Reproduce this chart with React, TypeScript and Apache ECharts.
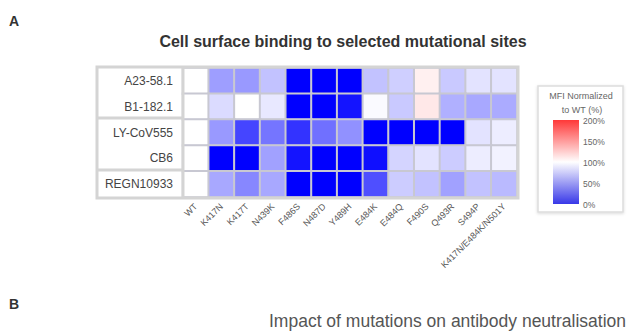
import React, { useEffect, useRef } from 'react';
import * as echarts from 'echarts';

const antibodies = ['A23-58.1', 'B1-182.1', 'LY-CoV555', 'CB6', 'REGN10933'];
const mutations = ['WT', 'K417N', 'K417T', 'N439K', 'F486S', 'N487D', 'Y489H', 'E484K', 'E484Q', 'F490S', 'Q493R', 'S494P', 'K417N/E484K/N501Y'];
const a23Values = [100, 62, 60, 76, 0, 0, 0, 76, 81, 106, 79, 89, 89];
const b1Values = [100, 86, 100, 91, 0, 0, 8, 98, 79, 109, 69, 66, 67];
const lyValues = [100, 60, 27, 46, 20, 44, 57, 0, 0, 0, 0, 89, 93];
const cb6Values = [100, 0, 0, 63, 8, 0, 0, 6, 83, 89, 80, 93, 95];
const regnValues = [100, 66, 53, 66, 0, 0, 0, 31, 80, 76, 63, 76, 73];
const legendTicks = ['200%', '150%', '100%', '50%', '0%'];
const rowsValues = [a23Values, b1Values, lyValues, cb6Values, regnValues];

export default function App() {
  const ref = useRef<HTMLDivElement>(null);
  useEffect(() => {
    document.body.style.margin = '0';
    const chart = echarts.init(ref.current!, null, { renderer: 'svg' });
    const data: number[][] = [];
    rowsValues.forEach((row, y) => row.forEach((v, x) => data.push([x, y, v])));
    const font = 'Liberation Sans, Arial, sans-serif';
    const gray = '#d4d4d4';
    const legendEls: any[] = legendTicks.map((t, i) => ({
      type: 'text',
      x: 583,
      y: 121 + i * 21,
      z: 11,
      style: { text: t, fontSize: 8.5, fill: '#666', fontFamily: font, textVerticalAlign: 'middle' },
    }));
    chart.setOption({
      animation: false,
      backgroundColor: '#fff',
      grid: { left: 183, top: 68, width: 334, height: 129 },
      xAxis: {
        type: 'category',
        data: mutations,
        axisLine: { show: false },
        axisTick: { show: false },
        splitLine: { show: false },
        axisLabel: { rotate: 45, interval: 0, fontSize: 9, color: '#555', fontFamily: font, margin: 8 },
      },
      yAxis: {
        type: 'category',
        data: antibodies,
        inverse: true,
        axisLine: { show: false },
        axisTick: { show: false },
        axisLabel: { fontSize: 12, color: '#444', fontFamily: font, margin: 10 },
      },
      visualMap: {
        show: false,
        type: 'continuous',
        min: 0,
        max: 200,
        inRange: { color: ['#0000ff', '#ffffff', '#ff0000'] },
      },
      series: [
        {
          type: 'heatmap',
          data,
          itemStyle: { borderColor: '#c8c8d2', borderWidth: 2 },
          emphasis: { disabled: true },
        },
      ],
      graphic: [
        { type: 'text', x: 9, y: 14, style: { text: 'A', fontSize: 14, fontWeight: 'bold', fill: '#333', fontFamily: font } },
        {
          type: 'text', x: 343, y: 41,
          style: { text: 'Cell surface binding to selected mutational sites', fontSize: 16, fontWeight: 'bold', fill: '#333', fontFamily: font, textAlign: 'center', textVerticalAlign: 'middle' },
        },
        { type: 'rect', shape: { x: 97, y: 67, width: 421, height: 131 }, style: { fill: 'none', stroke: gray, lineWidth: 3 }, z: 10 },
        { type: 'line', shape: { x1: 97, y1: 118, x2: 183, y2: 118 }, style: { stroke: gray, lineWidth: 3 }, z: 10 },
        { type: 'line', shape: { x1: 97, y1: 170, x2: 183, y2: 170 }, style: { stroke: gray, lineWidth: 3 }, z: 10 },
        { type: 'line', shape: { x1: 183, y1: 67, x2: 183, y2: 198 }, style: { stroke: gray, lineWidth: 3 }, z: 10 },
        { type: 'rect', shape: { x: 538, y: 86, width: 85, height: 126 }, style: { fill: '#fff', stroke: '#dddddd', lineWidth: 1.5, shadowBlur: 3, shadowColor: 'rgba(0,0,0,0.15)', shadowOffsetY: 1 } },
        { type: 'text', x: 581, y: 96, style: { text: 'MFI Normalized', fontSize: 9, fill: '#666', fontFamily: font, textAlign: 'center', textVerticalAlign: 'middle' }, z: 11 },
        { type: 'text', x: 582, y: 110, style: { text: 'to WT (%)', fontSize: 9, fill: '#666', fontFamily: font, textAlign: 'center', textVerticalAlign: 'middle' }, z: 11 },
        {
          type: 'rect', shape: { x: 553, y: 120, width: 26, height: 84 }, z: 11,
          style: {
            fill: new echarts.graphic.LinearGradient(0, 0, 0, 1, [
              { offset: 0, color: '#ff3838' },
              { offset: 0.5, color: '#ffffff' },
              { offset: 1, color: '#3838e8' },
            ]),
          },
        },
        ...legendEls,
        { type: 'text', x: 9, y: 297, style: { text: 'B', fontSize: 14, fontWeight: 'bold', fill: '#333', fontFamily: font } },
        {
          type: 'text', x: 626, y: 321,
          style: { text: 'Impact of mutations on antibody neutralisation', fontSize: 17.5, fill: '#555', fontFamily: font, textAlign: 'right', textVerticalAlign: 'middle' },
        },
      ],
    });
    return () => chart.dispose();
  }, []);
  return <div ref={ref} style={{ width: 629, height: 332 }} />;
}
